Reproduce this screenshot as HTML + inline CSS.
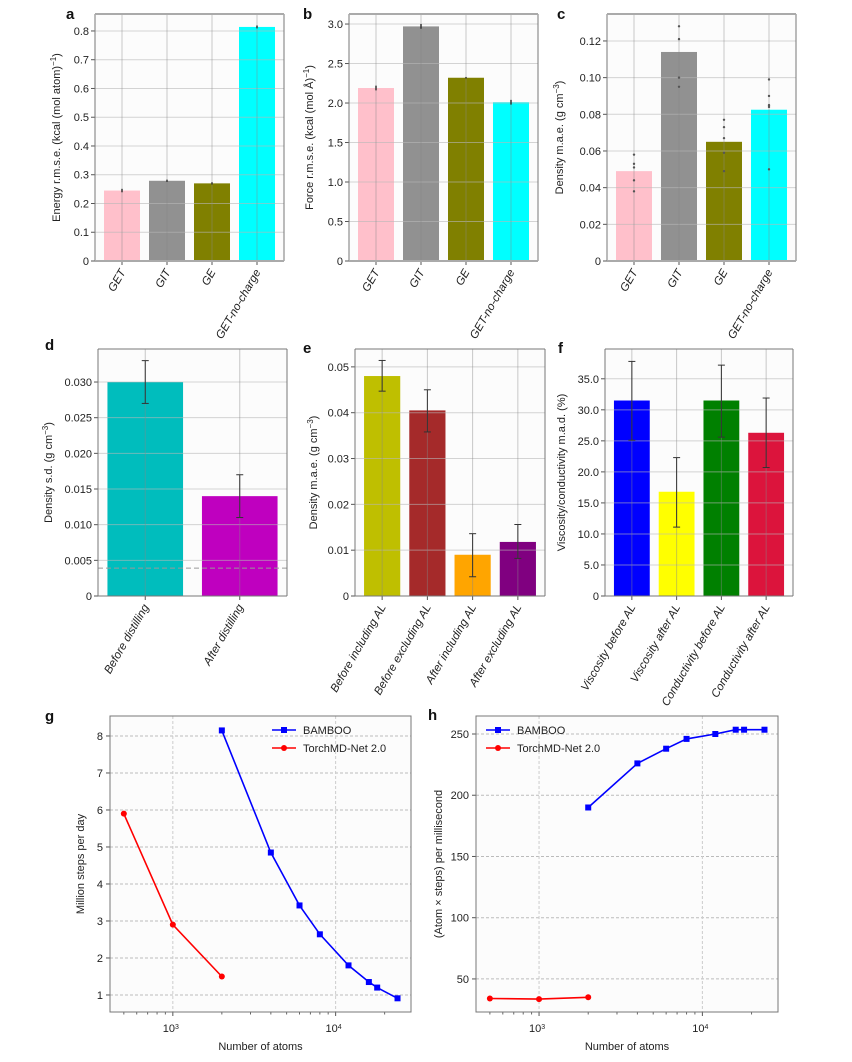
<!DOCTYPE html>
<html><head><meta charset="utf-8">
<style>
html,body{margin:0;padding:0;background:#fff;}
svg{display:block;font-family:"Liberation Sans Narrow","Liberation Sans",sans-serif;}
.tick{font-size:11px;fill:#222;}
.ytitle{font-family:"Liberation Sans",sans-serif;font-size:11px;fill:#222;}
.letter{font-family:"Liberation Sans",sans-serif;font-weight:bold;font-size:15px;fill:#111;}
.xl{font-size:11.5px;font-style:italic;fill:#222;}
</style></head>
<body>
<svg id="chart" width="852" height="1062" viewBox="0 0 852 1062" xmlns="http://www.w3.org/2000/svg"></svg>
<script>
// ---- data ----
const catsABC = ["GET","GIT","GE","GET-no-charge"];
const colorsABC = ["#ffc0cb","#919191","#808000","#00ffff"];
const energyVals = [0.245,0.279,0.270,0.814];
const energyErr = [0.006,0.004,0.004,0.005];
const energyTicks = [0,0.1,0.2,0.3,0.4,0.5,0.6,0.7,0.8];
const energyTickLabels = ["0","0.1","0.2","0.3","0.4","0.5","0.6","0.7","0.8"];
const forceVals = [2.19,2.97,2.32,2.01];
const forceErr = [0.03,0.03,0.01,0.03];
const forceTicks = [0,0.5,1.0,1.5,2.0,2.5,3.0];
const forceTickLabels = ["0","0.5","1.0","1.5","2.0","2.5","3.0"];
const densVals = [0.049,0.114,0.065,0.0825];
const densPointsGET = [0.058,0.053,0.051,0.044,0.038];
const densPointsGIT = [0.128,0.121,0.100,0.095];
const densPointsGE = [0.077,0.073,0.067,0.059,0.049];
const densPointsNC = [0.099,0.090,0.085,0.084,0.050];
const densTicks = [0,0.02,0.04,0.06,0.08,0.10,0.12];
const densTickLabels = ["0","0.02","0.04","0.06","0.08","0.10","0.12"];
const catsD = ["Before distilling","After distilling"];
const colorsD = ["#00bdbd","#bf00bf"];
const sdVals = [0.030,0.014];
const sdLo = [0.027,0.011];
const sdHi = [0.033,0.017];
const sdRef = 0.0039;
const sdTicks = [0,0.005,0.010,0.015,0.020,0.025,0.030];
const sdTickLabels = ["0","0.005","0.010","0.015","0.020","0.025","0.030"];
const catsE = ["Before including AL","Before excluding AL","After including AL","After excluding AL"];
const colorsE = ["#bfbf00","#a52a2a","#ffa500","#800080"];
const alVals = [0.048,0.0405,0.009,0.0118];
const alLo = [0.0447,0.0358,0.0042,0.0082];
const alHi = [0.0514,0.045,0.0136,0.0156];
const alTicks = [0,0.01,0.02,0.03,0.04,0.05];
const alTickLabels = ["0","0.01","0.02","0.03","0.04","0.05"];
const catsF = ["Viscosity before AL","Viscosity after AL","Conductivity before AL","Conductivity after AL"];
const colorsF = ["#0000ff","#ffff00","#008000","#dc143c"];
const madVals = [31.5,16.8,31.5,26.3];
const madLo = [25.1,11.1,25.6,20.7];
const madHi = [37.8,22.3,37.2,31.9];
const madTicks = [0,5,10,15,20,25,30,35];
const madTickLabels = ["0","5.0","10.0","15.0","20.0","25.0","30.0","35.0"];
const bambooAtoms = [2000,4000,6000,8000,12000,16000,18000,24000];
const bambooSteps = [8.15,4.85,3.42,2.64,1.80,1.35,1.20,0.91];
const bambooThroughput = [190,226,238,246,250,253.5,253.5,253.5];
const torchAtoms = [500,1000,2000];
const torchSteps = [5.9,2.9,1.5];
const torchThroughput = [34,33.5,35];
const gTicks = [1,2,3,4,5,6,7,8];
const hTicks = [50,100,150,200,250];

const NS = "http://www.w3.org/2000/svg";
const svg = document.getElementById('chart');
function mk(tag, attrs, parent){
  const e = document.createElementNS(NS, tag);
  for (const k in attrs) e.setAttribute(k, attrs[k]);
  (parent||svg).appendChild(e);
  return e;
}
function ytitle(parentG, x, y, parts){
  const t = mk('text',{x:0,y:0,class:'ytitle','text-anchor':'middle',transform:`translate(${x},${y}) rotate(-90)`},parentG);
  
  
  parts.forEach(p=>{
    const s = mk('tspan', p.sup?{'baseline-shift':'super','font-size':'8px'}:{}, t);
    s.textContent = p.t;
  });
  return t;
}

function barPanel(o){
  const g = mk('g',{});
  
  
  const L=o.x0,R=o.x1,T=o.top,B=o.bottom;
  const n=o.cats.length;
  const lo=o.xlo, hi=n-1+o.xlo*-1;
  const xs = i => L + (i - lo)/(hi-lo)*(R-L);
  const bw = 0.8*(R-L)/(hi-lo);
  const ys = v => B - v/o.ymax*(B-T);
  const bg = mk('rect',{x:L,y:T,width:R-L,height:B-T,fill:'#fcfcfc'},g);
  
  
  o.vals.forEach((v,i)=>{
    const r = mk('rect',{x:xs(i)-bw/2,y:ys(v),width:bw,height:B-ys(v),fill:o.colors[i]},g);
    
    
  });
  o.ticks.forEach((t,i)=>{
    const y=ys(t);
    const gl = mk('line',{x1:L,x2:R,y1:y,y2:y,stroke:'#b8b8b8','stroke-opacity':0.6,'stroke-width':1},g);
    
    
    const tk = mk('line',{x1:L-4,x2:L,y1:y,y2:y,stroke:'#555'},g);
    
    
    const tl = mk('text',{x:L-6,y:y+4,class:'tick','text-anchor':'end'},g);
    
    
    tl.textContent=o.tickLabels[i];
  });
  o.cats.forEach((c,i)=>{
    const x=xs(i);
    const vl = mk('line',{x1:x,x2:x,y1:T,y2:B,stroke:'#888','stroke-opacity':0.45,'stroke-width':1},g);
    
    
    const tk = mk('line',{x1:x,x2:x,y1:B,y2:B+4,stroke:'#555'},g);
    
    
    const tl = mk('text',{x:0,y:0,class:'xl','text-anchor':'end',transform:`translate(${x+4},${B+11}) rotate(-60)`},g);
    
    
    tl.textContent=c;
  });
  if(o.lo){
    const cw = o.capless ? 0 : 3.5;
    o.vals.forEach((v,i)=>{
      const x=xs(i);
      const eg = mk('g',{stroke:'#333','stroke-width':o.capless?1.5:1},g);
      
      
      mk('line',{x1:x,x2:x,y1:ys(o.lo[i]),y2:ys(o.hi[i])},eg);
      if(cw){
        mk('line',{x1:x-cw,x2:x+cw,y1:ys(o.lo[i]),y2:ys(o.lo[i])},eg);
        mk('line',{x1:x-cw,x2:x+cw,y1:ys(o.hi[i]),y2:ys(o.hi[i])},eg);
      }
    });
  }
  if(o.pts){
    o.pts.forEach((arr,i)=>{
      arr.forEach(p=>{
        const c = mk('circle',{cx:xs(i),cy:ys(p),r:1.2,fill:'#555'},g);
        
        
      });
    });
  }
  if(o.ref!==undefined){
    const rl = mk('line',{x1:L,x2:R,y1:ys(o.ref),y2:ys(o.ref),stroke:'#999','stroke-dasharray':'5,3'},g);
    
    
  }
  const sp = mk('g',{},g);
  
  
  mk('line',{x1:L,x2:L,y1:T,y2:B,stroke:'#777'},sp);
  mk('line',{x1:R,x2:R,y1:T,y2:B,stroke:'#777'},sp);
  mk('line',{x1:L,x2:R,y1:T,y2:T,stroke:o.thick?'#aaa':'#777','stroke-width':o.thick?2:1},sp);
  mk('line',{x1:L,x2:R,y1:B,y2:B,stroke:o.thick?'#aaa':'#777','stroke-width':o.thick?2:1},sp);
  ytitle(g,o.tx,(T+B)/2,o.title);
  const lt = mk('text',{x:o.lx,y:o.ly,class:'letter'},g);
  
  
  lt.textContent=o.letter;
}

barPanel({name:'panel-a-energy',x0:95,x1:284,top:14,bottom:261,ymax:0.859,xlo:-0.6,cats:catsABC,vals:energyVals,colors:colorsABC,capless:true,
  lo:energyVals.map((v,i)=>v-energyErr[i]),hi:energyVals.map((v,i)=>v+energyErr[i]),
  ticks:energyTicks,tickLabels:energyTickLabels,thick:true,tx:60,title:[{t:'Energy r.m.s.e. (kcal (mol atom)'},{t:'−1',sup:1},{t:')'}],letter:'a',lx:66,ly:19});
barPanel({name:'panel-b-force',x0:349,x1:538,top:14,bottom:261,ymax:3.127,xlo:-0.6,cats:catsABC,vals:forceVals,colors:colorsABC,capless:true,
  lo:forceVals.map((v,i)=>v-forceErr[i]),hi:forceVals.map((v,i)=>v+forceErr[i]),
  ticks:forceTicks,tickLabels:forceTickLabels,thick:true,tx:313,title:[{t:'Force r.m.s.e. (kcal (mol Å)'},{t:'−1',sup:1},{t:')'}],letter:'b',lx:303,ly:19});
barPanel({name:'panel-c-density',x0:607,x1:796,top:14,bottom:261,ymax:0.1347,xlo:-0.6,cats:catsABC,vals:densVals,colors:colorsABC,
  pts:[densPointsGET,densPointsGIT,densPointsGE,densPointsNC],
  ticks:densTicks,tickLabels:densTickLabels,thick:true,tx:563,title:[{t:'Density m.a.e. (g cm'},{t:'−3',sup:1},{t:')'}],letter:'c',lx:557,ly:19});
barPanel({name:'panel-d-distilling',x0:98,x1:287,top:349,bottom:596,ymax:0.03463,xlo:-0.5,cats:catsD,vals:sdVals,colors:colorsD,
  lo:sdLo,hi:sdHi,ref:sdRef,ticks:sdTicks,tickLabels:sdTickLabels,tx:52,title:[{t:'Density s.d. (g cm'},{t:'−3',sup:1},{t:')'}],letter:'d',lx:45,ly:350});
barPanel({name:'panel-e-active-learning',x0:355,x1:545,top:349,bottom:596,ymax:0.0539,xlo:-0.6,cats:catsE,vals:alVals,colors:colorsE,
  lo:alLo,hi:alHi,ticks:alTicks,tickLabels:alTickLabels,tx:317,title:[{t:'Density m.a.e. (g cm'},{t:'−3',sup:1},{t:')'}],letter:'e',lx:303,ly:353});
barPanel({name:'panel-f-viscosity',x0:605,x1:793,top:349,bottom:596,ymax:39.8,xlo:-0.6,cats:catsF,vals:madVals,colors:colorsF,
  lo:madLo,hi:madHi,ticks:madTicks,tickLabels:madTickLabels,tx:565,title:[{t:'Viscosity/conductivity m.a.d. (%)'}],letter:'f',lx:558,ly:353});

function linePanel(o){
  const g = mk('g',{});
  
  
  const L=o.x0,R=o.x1,T=o.top,B=o.bottom;
  const xs = v => L + (Math.log10(v)-o.lx0)/(o.lx1-o.lx0)*(R-L);
  const ys = v => B - (v-o.y0)/(o.y1-o.y0)*(B-T);
  const bg = mk('rect',{x:L,y:T,width:R-L,height:B-T,fill:'#fcfcfc'},g);
  
  
  o.ticks.forEach(t=>{
    const y=ys(t);
    const gl = mk('line',{x1:L,x2:R,y1:y,y2:y,stroke:'#bbb','stroke-dasharray':'3,2'},g);
    
    
    const tk = mk('line',{x1:L-4,x2:L,y1:y,y2:y,stroke:'#555'},g);
    
    
    const tl = mk('text',{x:L-7,y:y+4,class:'tick','text-anchor':'end'},g);
    
    
    tl.textContent=String(t);
  });
  [3,4].forEach(p=>{
    const x=xs(Math.pow(10,p));
    const gl = mk('line',{x1:x,x2:x,y1:T,y2:B,stroke:'#ccc','stroke-dasharray':'3,2'},g);
    
    
    const tk = mk('line',{x1:x,x2:x,y1:B,y2:B+4,stroke:'#555'},g);
    
    
    const tl = mk('text',{x:x-2,y:B+20,class:'tick','text-anchor':'middle'},g);
    
    
    tl.textContent='10';
    const sup = mk('tspan',{'baseline-shift':'super','font-size':'7px'},tl);
    sup.textContent=String(p);
  });
  for(let p=2;p<=4;p++){for(let m=2;m<=9;m++){
    const v=m*Math.pow(10,p); const lv=Math.log10(v);
    if(lv<o.lx0||lv>o.lx1) continue;
    const x=xs(v);
    const mt = mk('line',{x1:x,x2:x,y1:B,y2:B+2.5,stroke:'#666'},g);
    
    
  }}
  const series=[{name:'BAMBOO',xs:bambooAtoms,ys:o.bam,color:'#0000ff',sq:true},{name:'TorchMD-Net 2.0',xs:torchAtoms,ys:o.tor,color:'#ff0000',sq:false}];
  series.forEach((s,si)=>{
    const sg = mk('g',{},g);
    
    
    const pts = s.xs.map((x,i)=>xs(x).toFixed(1)+','+ys(s.ys[i]).toFixed(1)).join(' ');
    mk('polyline',{points:pts,fill:'none',stroke:s.color,'stroke-width':1.6},sg);
    s.xs.forEach((x,i)=>{
      const m = s.sq ? mk('rect',{x:xs(x)-3,y:ys(s.ys[i])-3,width:6,height:6,fill:s.color},sg)
                     : mk('circle',{cx:xs(x),cy:ys(s.ys[i]),r:3,fill:s.color},sg);
      
      
    });
    const ly = o.legY + si*18;
    const lg = mk('g',{},g);
    
    
    mk('line',{x1:o.legX,x2:o.legX+24,y1:ly,y2:ly,stroke:s.color,'stroke-width':1.6},lg);
    if(s.sq) mk('rect',{x:o.legX+9,y:ly-3,width:6,height:6,fill:s.color},lg);
    else mk('circle',{cx:o.legX+12,cy:ly,r:3,fill:s.color},lg);
    const lt = mk('text',{x:o.legX+31,y:ly+4,class:'tick','font-size':'10.5px'},lg);
    lt.textContent=s.name;
  });
  const sp = mk('rect',{x:L,y:T,width:R-L,height:B-T,fill:'none',stroke:'#777'},g);
  
  
  const xt = mk('text',{x:(L+R)/2,y:1050,class:'tick','font-size':'12px','text-anchor':'middle'},g);
  
  
  xt.textContent='Number of atoms';
  ytitle(g,o.tx,(T+B)/2,[{t:o.title}]);
  const lt = mk('text',{x:o.lxl,y:o.lyl,class:'letter'},g);
  
  
  lt.textContent=o.letter;
}
linePanel({name:'panel-g-steps-per-day',x0:110,x1:411,top:716,bottom:1012,lx0:2.614,lx1:4.463,y0:0.54,y1:8.54,bam:bambooSteps,tor:torchSteps,ticks:gTicks,
  legX:272,legY:730,tx:84,title:'Million steps per day',letter:'g',lxl:45,lyl:721});
linePanel({name:'panel-h-throughput',x0:476,x1:778,top:716,bottom:1012,lx0:2.614,lx1:4.463,y0:23,y1:264.7,bam:bambooThroughput,tor:torchThroughput,ticks:hTicks,
  legX:486,legY:730,tx:442,title:'(Atom × steps) per millisecond',letter:'h',lxl:428,lyl:720});
</script>
</body></html>
